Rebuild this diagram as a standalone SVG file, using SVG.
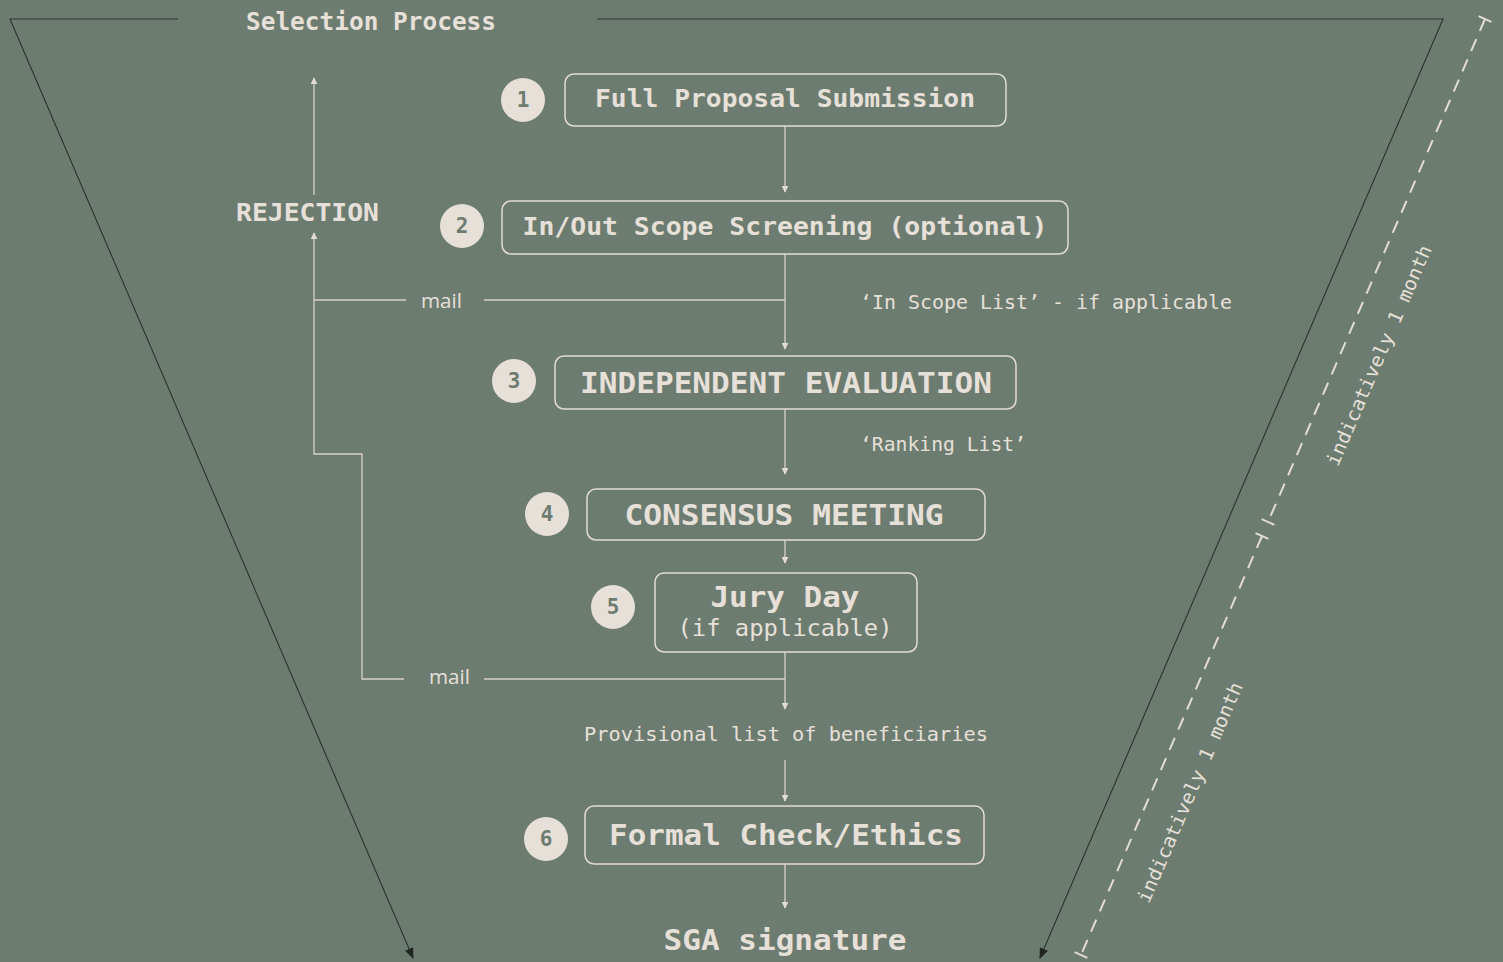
<svg xmlns="http://www.w3.org/2000/svg" width="1503" height="962" viewBox="0 0 1503 962">
<defs>
<marker id="al" viewBox="0 0 10 10" refX="9" refY="5" markerWidth="7" markerHeight="7" markerUnits="userSpaceOnUse" orient="auto"><path d="M0,0 L10,5 L0,10 z" fill="#e2dcd4"/></marker>
<marker id="ad" viewBox="0 0 10 10" refX="9" refY="5" markerWidth="11" markerHeight="11" markerUnits="userSpaceOnUse" orient="auto"><path d="M0,1 L10,5 L0,9 z" fill="#1f2622"/></marker>
<style>
.bg{fill:#6d7c70}
.box{fill:none;stroke:#e2dcd4;stroke-width:1.5}
.t{fill:#e6e0d9;font-family:"DejaVu Sans Mono","Liberation Mono",monospace}
.b{font-weight:bold}
.c{text-anchor:middle}
.num{fill:#e6e0d9}
.numt{fill:#6d7c70;font-family:"DejaVu Sans Mono","Liberation Mono",monospace;font-weight:bold;font-size:21px;text-anchor:middle}
.ln{fill:none;stroke:#d8d2ca;stroke-width:1.3}
.dk{fill:none;stroke:#2b332e;stroke-width:1.1}
.ds{fill:none;stroke:#e2dcd4;stroke-width:2;stroke-dasharray:13 9}
.tk{fill:none;stroke:#e2dcd4;stroke-width:2}
.sans{fill:#e6e0d9;font-family:"Open Sans","Noto Sans",sans-serif;font-size:20px}
</style>
</defs>
<rect class="bg" x="0" y="0" width="1503" height="962"/>

<g id="funnel">
<path class="dk" d="M178,19 L10,19 L413,958" marker-end="url(#ad)"/>
<path class="dk" d="M597,19 L1443,19 L1040,958" marker-end="url(#ad)"/>
<text class="t b c" x="371" y="30" font-size="24" textLength="250" lengthAdjust="spacingAndGlyphs">Selection Process</text>
</g>

<g id="timeline">
<path class="ds" d="M1485,19 L1268,522"/>
<path class="ds" d="M1262,536 L1081,955"/>
<path class="tk" d="M1478.6,16.2 L1491.4,21.8"/>
<path class="tk" d="M1261.6,519.2 L1274.4,524.8"/>
<path class="tk" d="M1255.6,533.2 L1268.4,538.8"/>
<path class="tk" d="M1074.6,952.2 L1087.4,957.8"/>
<text class="t c" transform="translate(1385,358) rotate(-66.6)" font-size="19" textLength="238" lengthAdjust="spacingAndGlyphs">indicatively 1 month</text>
<text class="t c" transform="translate(1196,795) rotate(-66.6)" font-size="19" textLength="238" lengthAdjust="spacingAndGlyphs">indicatively 1 month</text>
</g>

<g id="connectors">
<path class="ln" d="M785,126 L785,192" marker-end="url(#al)"/>
<path class="ln" d="M785,254 L785,349" marker-end="url(#al)"/>
<path class="ln" d="M785,300 L484,300"/>
<path class="ln" d="M406,300 L314,300"/>
<path class="ln" d="M314,300 L314,233" marker-end="url(#al)"/>
<path class="ln" d="M314,195 L314,78" marker-end="url(#al)"/>
<path class="ln" d="M314,300 L314,454 L362,454 L362,679 L404,679"/>
<path class="ln" d="M484,679 L785,679"/>
<path class="ln" d="M785,409 L785,474" marker-end="url(#al)"/>
<path class="ln" d="M785,540 L785,563" marker-end="url(#al)"/>
<path class="ln" d="M785,652 L785,709" marker-end="url(#al)"/>
<path class="ln" d="M785,760 L785,801" marker-end="url(#al)"/>
<path class="ln" d="M785,864 L785,908" marker-end="url(#al)"/>
<text class="sans" x="421" y="308" textLength="41" lengthAdjust="spacingAndGlyphs">mail</text>
<text class="sans" x="429" y="684" textLength="41" lengthAdjust="spacingAndGlyphs">mail</text>
<text class="t" x="860" y="309" font-size="19" textLength="372" lengthAdjust="spacingAndGlyphs">‘In Scope List’ - if applicable</text>
<text class="t" x="860" y="451" font-size="19" textLength="166" lengthAdjust="spacingAndGlyphs">‘Ranking List’</text>
<text class="t c" x="786" y="741" font-size="19" textLength="404" lengthAdjust="spacingAndGlyphs">Provisional list of beneficiaries</text>
</g>

<g id="rejection">
<text class="t b" x="236" y="221" font-size="24" textLength="143" lengthAdjust="spacingAndGlyphs">REJECTION</text>
</g>

<g id="node1">
<rect class="box" x="565" y="74" width="441" height="52" rx="9"/>
<text class="t b c" x="785" y="107" font-size="24" textLength="380" lengthAdjust="spacingAndGlyphs">Full Proposal Submission</text>
<circle class="num" cx="523" cy="100" r="22"/>
<text class="numt" x="523" y="107">1</text>
</g>

<g id="node2">
<rect class="box" x="502" y="201" width="566" height="53" rx="9"/>
<text class="t b c" x="785" y="235" font-size="24" textLength="525" lengthAdjust="spacingAndGlyphs">In/Out Scope Screening (optional)</text>
<circle class="num" cx="462" cy="226" r="22"/>
<text class="numt" x="462" y="233">2</text>
</g>

<g id="node3">
<rect class="box" x="555" y="356" width="461" height="53" rx="9"/>
<text class="t b c" x="786" y="393" font-size="29" textLength="412" lengthAdjust="spacingAndGlyphs">INDEPENDENT EVALUATION</text>
<circle class="num" cx="514" cy="381" r="22"/>
<text class="numt" x="514" y="388">3</text>
</g>

<g id="node4">
<rect class="box" x="587" y="489" width="398" height="51" rx="9"/>
<text class="t b c" x="784" y="525" font-size="29" textLength="319" lengthAdjust="spacingAndGlyphs">CONSENSUS MEETING</text>
<circle class="num" cx="547" cy="514" r="22"/>
<text class="numt" x="547" y="521">4</text>
</g>

<g id="node5">
<rect class="box" x="655" y="573" width="262" height="79" rx="9"/>
<text class="t b c" x="785" y="607" font-size="29" textLength="149" lengthAdjust="spacingAndGlyphs">Jury Day</text>
<text class="t c" x="785" y="636" font-size="23" textLength="215" lengthAdjust="spacingAndGlyphs">(if applicable)</text>
<circle class="num" cx="613" cy="607" r="22"/>
<text class="numt" x="613" y="614">5</text>
</g>

<g id="node6">
<rect class="box" x="585" y="806" width="399" height="58" rx="9"/>
<text class="t b c" x="786" y="845" font-size="29" textLength="354" lengthAdjust="spacingAndGlyphs">Formal Check/Ethics</text>
<circle class="num" cx="546" cy="839" r="22"/>
<text class="numt" x="546" y="846">6</text>
</g>

<g id="sga">
<text class="t b c" x="785" y="950" font-size="29" textLength="243" lengthAdjust="spacingAndGlyphs">SGA signature</text>
</g>
</svg>
